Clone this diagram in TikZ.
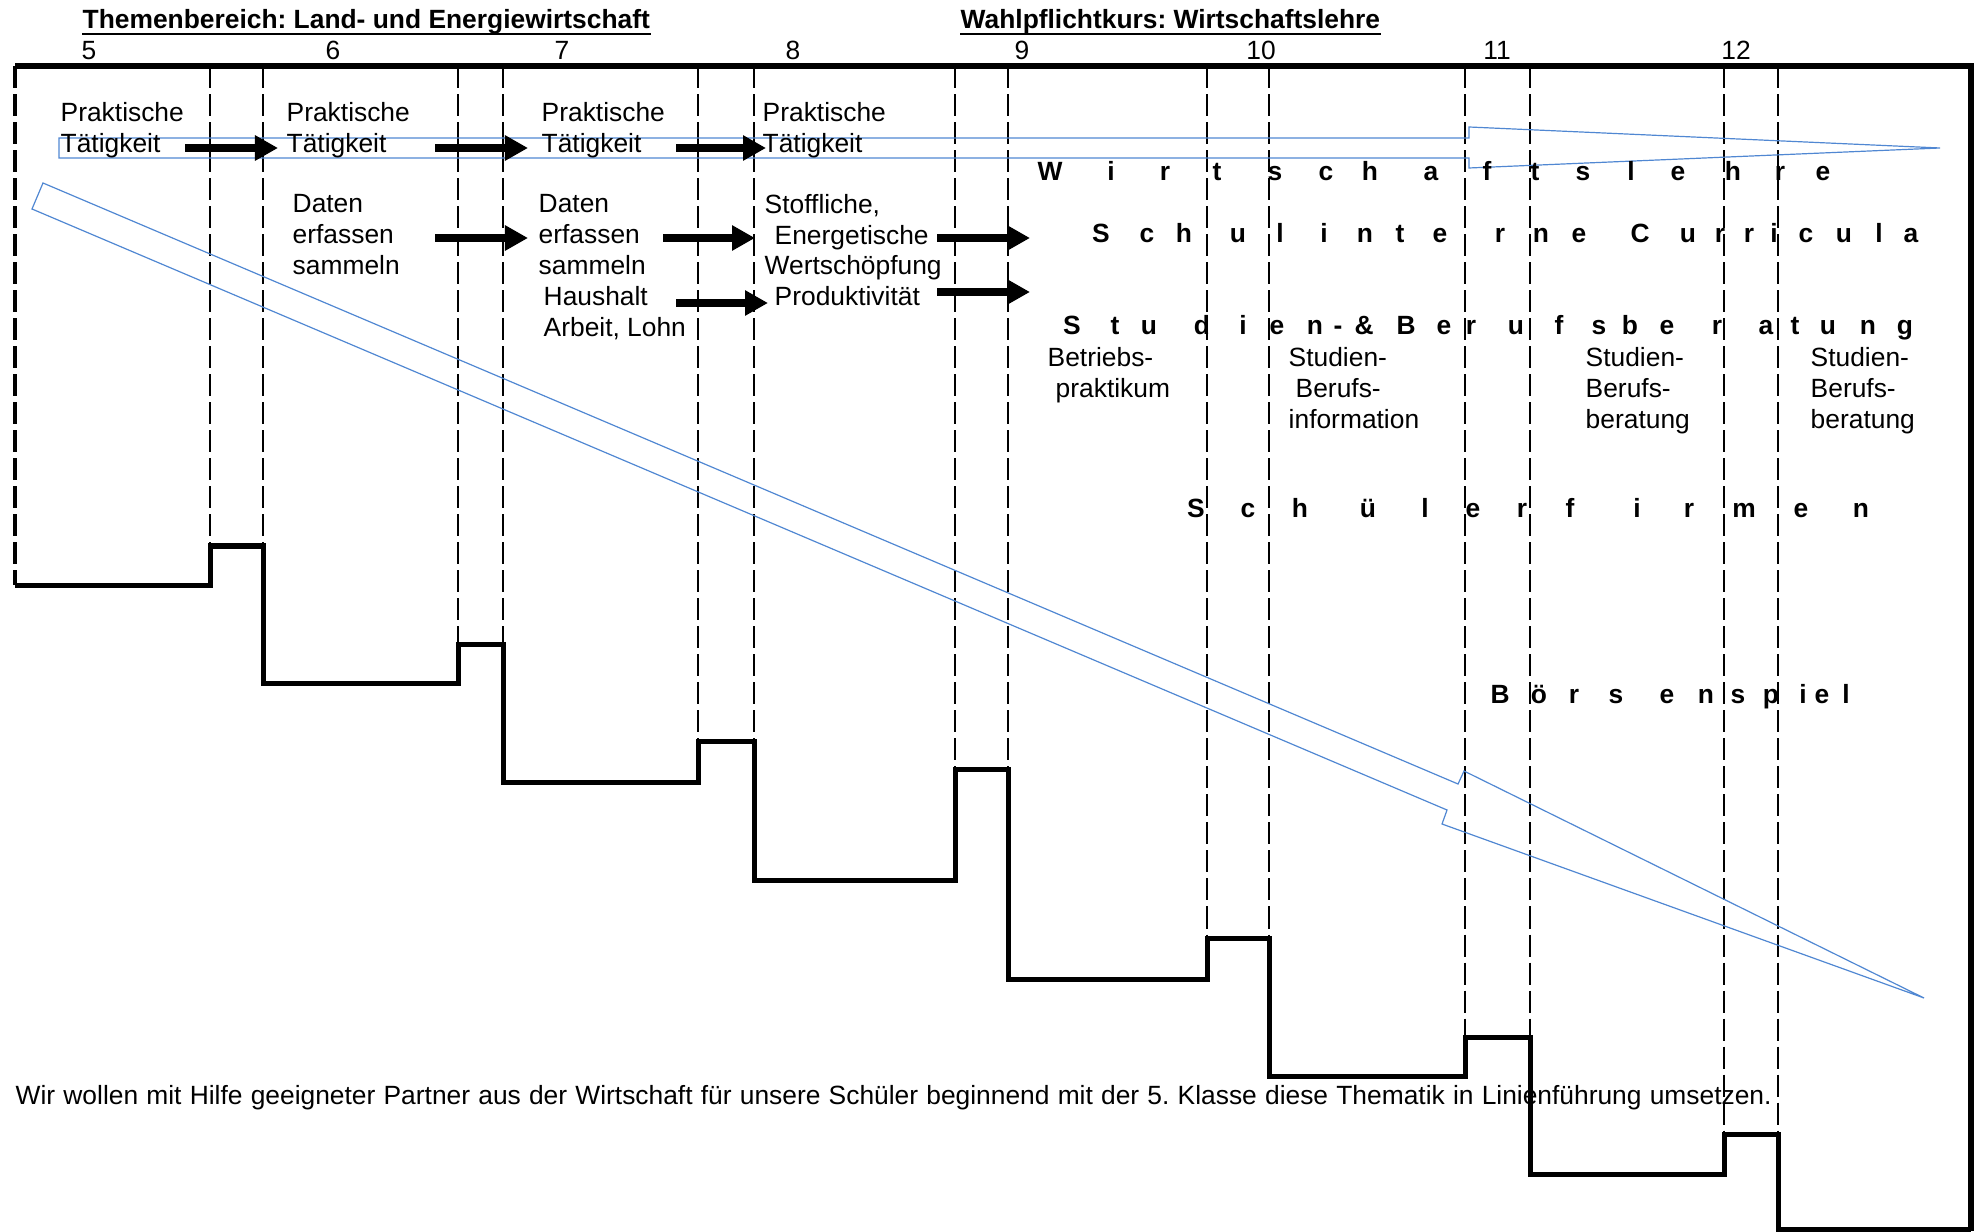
\documentclass[tikz,border=0pt]{standalone}
\usepackage{fontspec}
\setmainfont{Liberation Sans}
\usepackage{tikz}
\usetikzlibrary{arrows.meta}

\definecolor{pfeilblau}{RGB}{80,135,210}
\newcommand{\grundschrift}{\fontsize{7.5}{8.7}\selectfont}
\frenchspacing

\tikzset{
	txt/.style={inner sep=0pt, anchor=north west, align=left, font=\grundschrift},
	sperr/.style={inner sep=0pt, anchor=base, font=\grundschrift\bfseries},
	titel/.style={inner sep=0pt, anchor=base west, font=\grundschrift\bfseries},
	rahmen/.style={line width=0.055cm, line join=miter},
	treppe/.style={line width=0.05cm, line join=miter},
	strich/.style={line width=0.012cm, dash pattern=on 0.22cm off 0.06cm},
	blockpfeil/.style={line width=0.08cm, -{Triangle[length=0.23cm,width=0.24cm]}},
	blaupfeil/.style={pfeilblau, line width=0.012cm, line join=miter}
}

\begin{document}
\begin{tikzpicture}[x=0.01cm, y=-0.01cm]
					\useasboundingbox (0,0) rectangle (1980,1231);
					
					% Draw headings, underlined
					\node[titel] (thema) at (82,29) {Themenbereich: Land- und Energiewirtschaft};
					\draw[line width=0.02cm] ([yshift=-0.05cm]thema.base west) -- ([yshift=-0.05cm]thema.base east);
					\node[titel] (wahl) at (960,29) {Wahlpflichtkurs: Wirtschaftslehre};
					\draw[line width=0.02cm] ([yshift=-0.05cm]wahl.base west) -- ([yshift=-0.05cm]wahl.base east);
					
					% Draw class numbers
					\foreach \n/\x in {5/89,6/333,7/562,8/793,9/1022,10/1261,11/1497,12/1736}
					\node[inner sep=0pt, anchor=base, font=\grundschrift] (kl\n) at (\x,60) {\n};
					
					% Draw frame, left side dashed
					\draw[rahmen] (15,66) -- (1971,66) -- (1971,1231);
					\draw[line width=0.03cm, dash pattern=on 0.22cm off 0.06cm] (15,66) -- (15,585);
					
					% Draw dashed class borders down to the steps
					\foreach \x/\y in {210/546,263/546,458/644,503/644,698/741,754/741,955/769,1008/769,1207/938,1269/938,1465/1037,1530/1037,1724/1134,1778/1134}
					\draw[strich] (\x,66) -- (\x,\y);
					
					% Draw staircase
					\draw[treppe] (15,585) -- (210,585) -- (210,546) -- (263,546) -- (263,683) -- (458,683) -- (458,644) -- (503,644) -- (503,782) -- (698,782) -- (698,741) -- (754,741) -- (754,880) -- (955,880) -- (955,769) -- (1008,769) -- (1008,979) -- (1207,979) -- (1207,938) -- (1269,938) -- (1269,1076) -- (1465,1076) -- (1465,1037) -- (1530,1037) -- (1530,1174) -- (1724,1174) -- (1724,1134) -- (1778,1134) -- (1778,1229) -- (1971,1229);
					
					% Draw blue outline arrows
					\draw[blaupfeil] (59,138) -- (1469,138) -- (1469,127) -- (1940,148) -- (1469,168) -- (1469,158) -- (59,158) -- cycle;
					\draw[blaupfeil] (43,183) -- (1458,784) -- (1464,771) -- (1924,998) -- (1442,824) -- (1447,810) -- (32,209) -- cycle;
					
					% Draw texts of the classes 5 to 8
					\node[txt] (prak5) at (60,102) {Praktische\\Tätigkeit};
					\node[txt] (prak6) at (286,102) {Praktische\\Tätigkeit};
					\node[txt] (prak7) at (541,102) {Praktische\\Tätigkeit};
					\node[txt] (prak8) at (762,102) {Praktische\\Tätigkeit};
					\node[txt] (daten6) at (292,194) {Daten\\erfassen\\sammeln};
					\node[txt] (daten7) at (538,194) {Daten\\erfassen\\sammeln};
					\node[txt] (haushalt7) at (543,286) {Haushalt\\Arbeit, Lohn};
					\node[txt] (stoff8) at (764,194) {Stoffliche,\\\hspace*{0.1cm}Energetische\\Wertschöpfung\\\hspace*{0.1cm}Produktivität};
					
					% Draw black arrows
					\foreach \name/\xa/\xb/\y in {pa/185/278/148, pb/435/528/148, pc/676/766/148, da/435/528/238, db/663/755/238, dc/937/1030/238, ha/676/768/303, hb/937/1030/292}
					{
					\coordinate (\name-start) at (\xa,\y);
					\coordinate (\name-end) at (\xb,\y);
					\draw[blockpfeil] (\name-start) -- (\name-end);
					}
					
					% Draw spaced bold words
					\foreach \b/\x [count=\i] in {W/1050,i/1111,r/1165,t/1217,s/1275,c/1326,h/1370,a/1431,f/1487,t/1535,s/1583,l/1631,e/1678,h/1733,r/1780,e/1823}
					\node[sperr] (wl\i) at (\x,181) {\b};
					\foreach \b/\x [count=\i] in {S/1101,c/1147,h/1184,u/1238,l/1280,i/1324,n/1365,t/1400,e/1440,r/1500,n/1541,e/1579,C/1640,u/1688,r/1720,r/1749,i/1774,c/1806,u/1844,l/1879,a/1911}
					\node[sperr] (sc\i) at (\x,243) {\b};
					\foreach \b/\x [count=\i] in {S/1072,t/1115,u/1149,d/1202,i/1243,e/1277,n/1315,-/1338,\&/1364,B/1406,e/1444,r/1471,u/1516,f/1559,s/1599,b/1630,e/1667,r/1717,a/1766,t/1795,u/1828,n/1868,g/1905}
					\node[sperr] (sb\i) at (\x,335) {\b};
					\foreach \b/\x [count=\i] in {S/1196,c/1248,h/1300,ü/1368,l/1425,e/1473,r/1522,f/1570,i/1637,r/1689,m/1744,e/1801,n/1861}
					\node[sperr] (sf\i) at (\x,518) {\b};
					\foreach \b/\x [count=\i] in {B/1500,ö/1539,r/1574,s/1616,e/1667,n/1706,s/1738,p/1771,i/1803,e/1822,l/1846}
					\node[sperr] (bs\i) at (\x,703) {\b};
					
					% Draw texts of the classes 9 to 12
					\node[txt] (betrieb9) at (1047,347) {Betriebs-\\\hspace*{0.08cm}praktikum};
					\node[txt] (info10) at (1288,347) {Studien-\\\hspace*{0.07cm}Berufs-\\information};
					\node[txt] (berat11) at (1585,347) {Studien-\\Berufs-\\beratung};
					\node[txt] (berat12) at (1810,347) {Studien-\\Berufs-\\beratung};
					
					% Draw sentence at the bottom
					\node[txt, anchor=base west] (ziel) at (15,1104) {\makebox[17.55cm][s]{Wir wollen mit Hilfe geeigneter Partner aus der Wirtschaft für unsere Schüler beginnend mit der 5. Klasse diese Thematik in Linienführung umsetzen.}};
					\end{tikzpicture}
\end{document}
